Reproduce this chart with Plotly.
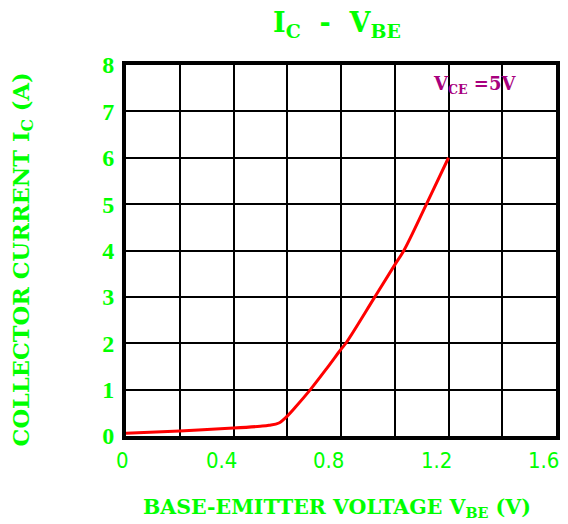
import plotly.graph_objects as go

# Data
vbe = [0, 0.2, 0.4, 0.5, 0.532, 0.569, 0.6, 0.63, 0.686, 0.75, 0.8, 0.818, 0.926, 1.0, 1.034, 1.118, 1.2]
ic = [0.06, 0.11, 0.17, 0.21, 0.23, 0.28, 0.43, 0.62, 1.0, 1.48, 1.87, 2.0, 3.0, 3.69, 4.0, 5.0, 6.0]

x_tick_vals = [0, 0.4, 0.8, 1.2, 1.6]
x_tick_text = ["0", "0.4", "0.8", "1.2", "1.6"]
y_tick_vals = [0, 1, 2, 3, 4, 5, 6, 7, 8]

GREEN = "#00FF00"
PURPLE = "#A8007E"
SERIF = "DejaVu Serif"
TICKSERIF = "Liberation Serif"
THIN = "Liberation Sans Narrow, DejaVu Sans Condensed, DejaVu Sans Mono"

fig = go.Figure()
fig.add_trace(go.Scatter(
    x=vbe, y=ic, mode="lines",
    line=dict(color="#FF0000", width=3, shape="spline", smoothing=1.0),
    showlegend=False, hoverinfo="skip",
))

annotations = []
for v, t in zip(x_tick_vals, x_tick_text):
    annotations.append(dict(
        x=v, y=0, xref="x", yref="paper", text=t, showarrow=False,
        xanchor="right", yanchor="middle", xshift=5, yshift=-24,
        font=dict(family=THIN, size=22, color=GREEN),
    ))

annotations += [
    dict(text="<b>I<sub>C</sub>  -  V<sub>BE</sub></b>", x=0.5, y=1, xref="paper", yref="paper",
         xanchor="center", yanchor="middle", xshift=-4, yshift=41, showarrow=False,
         font=dict(family=SERIF, size=27, color=GREEN)),
    dict(text="<b>BASE-EMITTER VOLTAGE V<sub>BE</sub> (V)</b>", x=0.5, y=0, xref="paper", yref="paper",
         xanchor="center", yanchor="middle", xshift=-4, yshift=-72, showarrow=False,
         font=dict(family=SERIF, size=20.5, color=GREEN)),
    dict(text="<b>COLLECTOR CURRENT I<sub>C</sub> (A)</b>", x=0, y=0.476, xref="paper", yref="paper",
         xanchor="center", yanchor="middle", xshift=-103, textangle=-90, showarrow=False,
         font=dict(family=SERIF, size=22.5, color=GREEN)),
    dict(text="<b>V<sub>CE</sub> =5V</b>", x=0.811, y=0.946, xref="paper", yref="paper",
         xanchor="center", yanchor="middle", showarrow=False,
         font=dict(family=SERIF, size=18, color=PURPLE)),
]

fig.update_layout(
    width=560, height=524,
    margin=dict(l=118, r=8, t=57, b=96),
    paper_bgcolor="white", plot_bgcolor="white",
    annotations=annotations,
    xaxis=dict(range=[0, 1.6], dtick=0.2, showticklabels=False,
               showgrid=True, gridcolor="black", gridwidth=2, zeroline=False,
               showline=True, linecolor="black", linewidth=4, mirror=True,
               fixedrange=True),
    yaxis=dict(range=[0, 8], tickvals=y_tick_vals, showgrid=True, gridcolor="black", gridwidth=2,
               zeroline=False, showline=True, linecolor="black", linewidth=4, mirror=True,
               ticks="", ticklabelstandoff=3,
               tickfont=dict(family=TICKSERIF, size=24, color=GREEN, weight="bold"),
               fixedrange=True),
)

fig.write_html("out.html")
